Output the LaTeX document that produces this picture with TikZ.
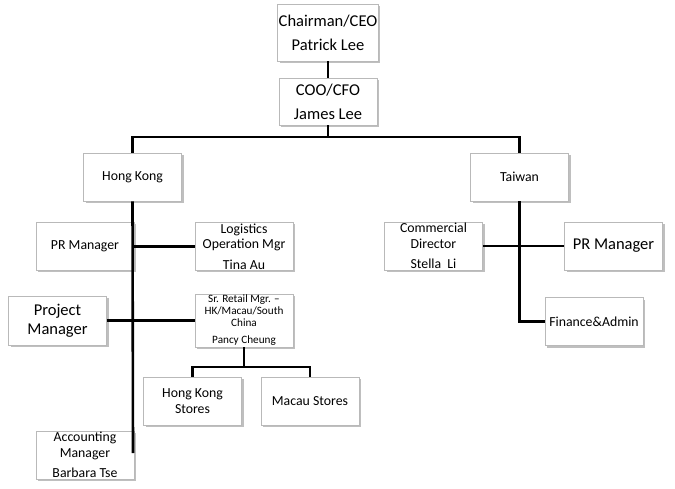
\documentclass[tikz,border=0pt]{standalone}
\usepackage{fontspec}
\setmainfont{Carlito}
\usepackage{tikz}
\usetikzlibrary{shadows}

\begin{document}
\begin{tikzpicture}[x=1pt, y=-1pt,
    box/.style={rectangle, draw=gray!55, line width=0.6pt, fill=white, align=center,
        inner sep=1pt, minimum width=98pt, minimum height=48pt,
        drop shadow={shadow xshift=2pt, shadow yshift=-2pt, fill=black!50, opacity=0.5},
        font=\fontsize{13.8}{15.5}\selectfont},
    big/.style={font=\fontsize{16.5}{19}\selectfont},
    small/.style={font=\fontsize{11.2}{12}\selectfont},
    link/.style={line width=2.6pt}
]
\useasboundingbox (0,0) rectangle (675,489);

% top
\node[box, big, minimum height=57pt] (ceo) at (328,32.5) {Chairman/CEO\\[5pt]Patrick Lee};
\node[box, big, minimum height=47pt] (coo) at (328,101.5) {COO/CFO\\[5pt]James Lee};
\coordinate (bar) at (328,137);

% regions
\node[box] (hk) at (132.5,177) {Hong Kong};
\node[box] (tw) at (519.5,177) {Taiwan};

% hong kong
\node[box] (hkpr) at (85,246.5) {PR Manager};
\node[box] (log) at (244,246.5) {Logistics\\Operation Mgr\\[5pt]Tina Au};
\node[box, big, minimum height=49pt] (pm) at (57.5,320.5) {Project\\Manager};
\node[box, small, minimum height=49pt] (sr) at (244,320.5) {Sr. Retail Mgr. --\\HK/Macau/South\\China\\[5pt]Pancy Cheung};
\node[box] (hks) at (192.5,401) {Hong Kong\\Stores};
\node[box] (ms) at (310,401) {Macau Stores};
\node[box] (acc) at (85,455) {Accounting\\Manager\\[5pt]Barbara Tse};
\coordinate (hkend) at (133,453);
\coordinate (srj) at (244,367);

% taiwan
\node[box] (cd) at (433.5,246) {Commercial\\Director\\[5pt]Stella~~Li};
\node[box, big] (twpr) at (613.5,246) {PR Manager};
\node[box] (fin) at (594,321.5) {Finance\&Admin};

\draw[link] (ceo) -- (coo);
\draw[link] (coo) -- (bar) -| (hk);
\draw[link] (bar) -| (tw);

\draw[link] (hk.south) -- (hkend);
\draw[link] (log.west) -- (log.west -| hk.south);
\draw[link] (pm.east) -- (sr.west);
\draw[link] (sr.south) -- (srj) -| (hks.north);
\draw[link] (srj) -| (ms.north);

\draw[link] (tw.south) |- (fin.west);
\draw[link] (cd.east) -- (twpr.west);
\end{tikzpicture}
\end{document}
